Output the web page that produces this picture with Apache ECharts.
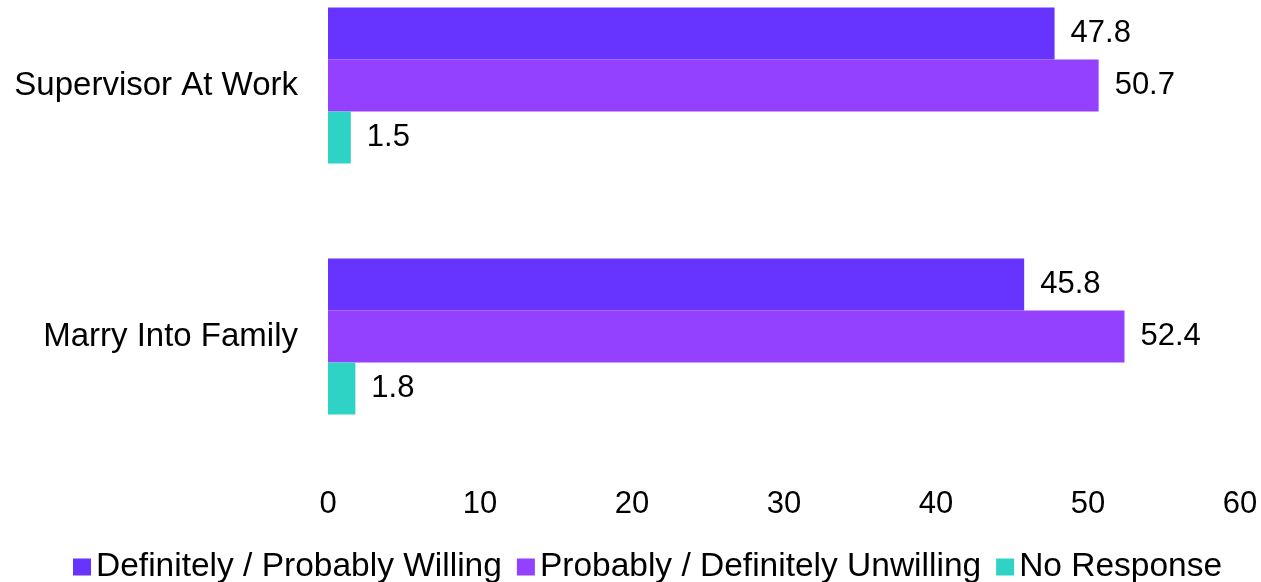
<!DOCTYPE html>
<html>
<head>
<meta charset="utf-8">
<script src="https://cdn.jsdelivr.net/npm/echarts@6/dist/echarts.min.js"></script>
<style>
  html, body { margin: 0; padding: 0; background: #ffffff; overflow: hidden; }
  /* canvas is taller than the window and lifted so the top band starts above the edge */
  #chart { position: absolute; left: 0; top: -40px; width: 1261px; height: 622px; }
</style>
</head>
<body>
<div id="chart"></div>
<script>
// Survey groups, listed top to bottom
const categories = ['Supervisor At Work', 'Marry Into Family'];
const seriesNames = ['Definitely / Probably Willing', 'Probably / Definitely Unwilling', 'No Response'];
const willing = [47.8, 45.8];
const unwilling = [50.7, 52.4];
const noResponse = [1.5, 1.8];
const xTicks = [0, 10, 20, 30, 40, 50, 60];
const colors = ['#6633FF', '#9440FF', '#2ED3C5'];

const font = 'Liberation Sans, Arial, Helvetica, sans-serif';
const values = [willing, unwilling, noResponse];

const chart = echarts.init(document.getElementById('chart'), null, { renderer: 'canvas' });
chart.setOption({
  animation: false,
  backgroundColor: '#ffffff',
  color: colors,
  textStyle: { fontFamily: font },
  grid: { left: 328, width: 912, top: 0, height: 502, containLabel: false },
  legend: {
    data: seriesNames,
    left: 73,
    top: 590,
    padding: 0,
    icon: 'rect',
    itemWidth: 18,
    itemHeight: 17,
    itemGap: 15,
    textStyle: { fontFamily: font, fontSize: 33.5, color: '#000000' }
  },
  xAxis: {
    type: 'value',
    min: xTicks[0],
    max: xTicks[xTicks.length - 1],
    interval: xTicks[1] - xTicks[0],
    axisLine: { show: false },
    axisTick: { show: false },
    splitLine: { show: false },
    axisLabel: { fontFamily: font, fontSize: 31, color: '#000000', margin: 27 }
  },
  yAxis: {
    type: 'category',
    data: categories,
    inverse: true,
    axisLine: { show: false },
    axisTick: { show: false },
    axisLabel: { fontFamily: font, fontSize: 33, color: '#000000', margin: 30 }
  },
  series: seriesNames.map((name, i) => ({
    name: name,
    type: 'bar',
    data: values[i],
    barWidth: 52,
    barGap: '0%',
    label: {
      show: true,
      position: 'right',
      distance: 16,
      fontFamily: font,
      fontSize: 31,
      color: '#000000',
      formatter: p => p.value.toFixed(1)
    }
  }))
});
</script>
</body>
</html>
